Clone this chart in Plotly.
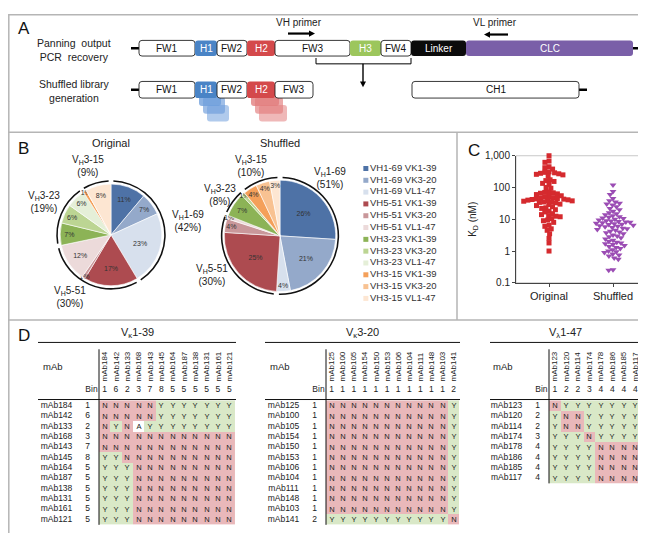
import math
import plotly.graph_objects as go

W, H = 646, 533
FONT = "Arial, 'Liberation Sans', sans-serif"

# ======================= DATA =======================
# Panel B
vh_genes = ["VH1-69", "VH5-51", "VH3-23", "VH3-15"]
vh_html = ["V<sub>H</sub>1-69", "V<sub>H</sub>5-51", "V<sub>H</sub>3-23", "V<sub>H</sub>3-15"]
vl_genes = ["VK1-39", "VK3-20", "VL1-47"]
original_pct = [11, 7, 23, 17, 1, 12, 7, 6, 6, 1, 0, 8]
shuffled_pct = [26, 21, 4, 25, 4, 1, 7, 1, 0, 4, 4, 3]
original_group_pct = [42, 30, 19, 9]
shuffled_group_pct = [51, 30, 8, 10]
pie_colors = ["#4e72a6", "#94a9ca", "#d7e0ed",
              "#ad4b50", "#c9979a", "#ecdada",
              "#8cb356", "#bcd593", "#e5efd8",
              "#f4a05a", "#f8c292", "#fde6d2"]

# Panel C (KD, nM)
kd_original = [1000, 680, 620, 450, 420, 380, 310, 300, 290, 280, 270, 260, 250, 230,
               175, 165, 155, 135, 125, 100, 95, 72, 70, 68, 66, 63, 60, 55, 52, 50,
               48, 46, 45, 44, 43, 42, 41, 40, 39, 38, 37, 36, 35, 34, 33, 30, 29,
               27, 25, 23, 22, 20, 18, 17, 15, 14, 13, 12.5, 12, 10.5, 9.5, 9, 8,
               6.5, 6, 5, 4.5, 3.5, 2.5, 1.8, 1.0]
kd_shuffled = [120, 75, 60, 45, 38, 35, 32, 30, 28, 25, 22, 20, 18, 16, 15, 14, 13,
               12, 11.5, 11, 10.5, 10, 9.5, 9, 8.8, 8.5, 8.2, 8, 7.8, 7.5, 7.2, 7,
               6.8, 6.5, 6.2, 6, 5.8, 5.5, 5.2, 5, 4.8, 4.5, 4.2, 4, 3.8, 3.5, 3.2,
               3, 2.8, 2.6, 2.4, 2.2, 2, 1.9, 1.8, 1.7, 1.6, 1.5, 1.4, 1.3, 1.2,
               1.1, 1.0, 0.95, 0.9, 0.8, 0.75, 0.7, 0.6, 0.55, 0.26, 0.25]
kd_ticks = [0.1, 1, 10, 100, 1000]
kd_ticktext = ["0.1", "1", "10", "100", "1,000"]
kd_groups = ["Original", "Shuffled"]

# Panel D
t1_title = "V<sub>κ</sub>1-39"
t1_mabs = ["mAb184", "mAb142", "mAb133", "mAb168", "mAb143", "mAb145",
           "mAb164", "mAb187", "mAb138", "mAb131", "mAb161", "mAb121"]
t1_bins = [1, 6, 2, 3, 7, 8, 5, 5, 5, 5, 5, 5]
t1_grid = ["NNNNNYYYYYYY", "NNNNNYYYYYYY", "NYNAYYYYYYYY", "NNNNNNNNNNNN",
           "NNNNNNNNNNNN", "YYNNNNNNNNNN", "YYYNNNNNNNNN", "YYYNNNNNNNNN",
           "YYYNNNNNNNNN", "YYYNNNNNNNNN", "YYYNNNNNNNNN", "YYYNNNNNNNNN"]

t2_title = "V<sub>κ</sub>3-20"
t2_mabs = ["mAb125", "mAb100", "mAb105", "mAb154", "mAb150", "mAb153",
           "mAb106", "mAb104", "mAb111", "mAb148", "mAb103", "mAb141"]
t2_bins = [1, 1, 1, 1, 1, 1, 1, 1, 1, 1, 1, 2]
t2_grid = ["NNNNNNNNNNNY"] * 11 + ["YYYYYYYYYYYN"]

t3_title = "V<sub>λ</sub>1-47"
t3_mabs = ["mAb123", "mAb120", "mAb114", "mAb174", "mAb178", "mAb186", "mAb185", "mAb117"]
t3_bins = [1, 2, 2, 3, 4, 4, 4, 4]
t3_grid = ["NYYYYYYY", "YNNYYYYY", "YNNYYYYY", "YYYNYYYY",
           "YYYYNNNN", "YYYYNNNN", "YYYYNNNN", "YYYYNNNN"]

# ======================= HELPERS =======================
def px(x):
    return x / W

def py(y):
    return 1 - y / H

def xdom(a, b):
    return [px(a), px(b)]

def ydom(top, bottom):
    return [py(bottom), py(top)]

shapes = []
annotations = []

def line(x0, y0, x1, y1, color="#000", width=1):
    shapes.append(dict(type="line", xref="paper", yref="paper", x0=px(x0), y0=py(y0),
                       x1=px(x1), y1=py(y1), line=dict(color=color, width=width)))

def poly(points, fill):
    path = "M " + " L ".join(f"{px(x):.5f},{py(y):.5f}" for x, y in points) + " Z"
    shapes.append(dict(type="path", xref="paper", yref="paper", path=path,
                       fillcolor=fill, line=dict(width=0)))

def rrect(x0, y0, x1, y1, fill, border=None, r=3, opacity=1.0):
    def P(x, y):
        return f"{px(x):.5f},{py(y):.5f}"
    path = (f"M {P(x0 + r, y0)} L {P(x1 - r, y0)} Q {P(x1, y0)} {P(x1, y0 + r)} "
            f"L {P(x1, y1 - r)} Q {P(x1, y1)} {P(x1 - r, y1)} L {P(x0 + r, y1)} "
            f"Q {P(x0, y1)} {P(x0, y1 - r)} L {P(x0, y0 + r)} Q {P(x0, y0)} {P(x0 + r, y0)} Z")
    shapes.append(dict(type="path", xref="paper", yref="paper", path=path, fillcolor=fill,
                       opacity=opacity,
                       line=dict(color=border if border else fill, width=0.9 if border else 0)))

def text(x, y, s, size=10, color="#222", xanchor="center", yanchor="middle", angle=0):
    annotations.append(dict(xref="paper", yref="paper", x=px(x), y=py(y), text=s,
                            showarrow=False, xanchor=xanchor, yanchor=yanchor,
                            textangle=angle, font=dict(size=size, color=color, family=FONT)))

def harrow(x_tail, x_head, y, width=2.2, head=6):
    d = 1 if x_head > x_tail else -1
    line(x_tail, y, x_head - d * head * 0.8, y, "#000", width)
    poly([(x_head, y), (x_head - d * head, y - 3.2), (x_head - d * head, y + 3.2)], "#000")

def varrow(x, y_tail, y_head, width=1.4, head=6):
    line(x, y_tail, x, y_head - head * 0.8, "#000", width)
    poly([(x, y_head), (x - 3, y_head - head), (x + 3, y_head - head)], "#000")

# ======================= PANEL FRAMES =======================
frame_col = "#b5b5b5"
shapes.append(dict(type="rect", xref="paper", yref="paper", x0=px(0.8), y0=py(532.2),
                   x1=px(645.2), y1=py(0.8), line=dict(color=frame_col, width=1.5)))
line(0, 121, 646, 121, frame_col, 1.5)
line(449, 121, 449, 313, frame_col, 1.5)
line(0, 313, 646, 313, frame_col, 1.5)
for lbl, x, y in [("A", 8, 15), ("B", 8, 138), ("C", 458, 140), ("D", 8, 329)]:
    text(x, y, lbl, size=17, color="#111", xanchor="left")

# ======================= PANEL A (diagram) =======================
row1 = [("FW1", 131, 187, "#ffffff", "#111"), ("H1", 187, 209, "#4a84c6", "#fff"),
        ("FW2", 209, 239, "#ffffff", "#111"), ("H2", 239, 267, "#d4494b", "#fff"),
        ("FW3", 267, 342, "#ffffff", "#111"), ("H3", 342, 373, "#9cc65c", "#fff"),
        ("FW4", 373, 403, "#ffffff", "#111"), ("Linker", 403, 458, "#0b0b0b", "#fff"),
        ("CLC", 458, 625, "#7a5fa8", "#fff")]
row2 = [("FW1", 131, 187, "#ffffff", "#111"), ("H1", 187, 209, "#4a84c6", "#fff"),
        ("FW2", 209, 239, "#ffffff", "#111"), ("H2", 239, 267, "#d4494b", "#fff"),
        ("FW3", 267, 305, "#ffffff", "#111"), ("CH1", 404, 571, "#ffffff", "#111")]
r1t, r1b = 27, 43
r2t, r2b = 69, 86
line(123, 35, 633, 35, "#000", 2.5)
line(123, 77.5, 132, 77.5, "#000", 2.5)
line(570, 77.5, 579, 77.5, "#000", 2.5)
for name, a, b, fill, tc in row1:
    rrect(a, r1t, b, r1b, fill, "#222" if fill == "#ffffff" else None)
    text((a + b) / 2, (r1t + r1b) / 2, name, size=10, color=tc)
for k in (3, 2, 1):
    rrect(187 + 4 * k, r2t + 8 * k, 209 + 4 * k, r2b + 8 * k, "#6d9ddb", None, opacity=0.9 - 0.12 * k)
    rrect(239 + 4 * k, r2t + 8 * k, 267 + 4 * k, r2b + 8 * k, "#e27c7c", None, opacity=0.9 - 0.12 * k)
for name, a, b, fill, tc in row2:
    rrect(a, r2t, b, r2b, fill, "#222" if fill == "#ffffff" else None)
    text((a + b) / 2, (r2t + r2b) / 2, name, size=10, color=tc)
shapes.append(dict(type="path", xref="paper", yref="paper",
                   path=f"M {px(308)},{py(45)} L {px(308)},{py(51)} L {px(403)},{py(51)} L {px(403)},{py(45)}",
                   line=dict(color="#000", width=1)))
varrow(355, 51, 75)
harrow(280, 307, 20)
harrow(500, 476, 21)
text(291, 9, "VH primer", size=10)
text(487, 9, "VL primer", size=10)
text(66, 37, "Panning  output<br>PCR  recovery", size=10.5)
text(66, 79, "Shuffled library<br>generation", size=10.5)

# ======================= PANEL B (pies) =======================
fig = go.Figure()

def add_pie(values, cx, cy, r, r_arc):
    fig.add_trace(go.Pie(
        values=values, labels=[f"{a} {b}" for a in vh_genes for b in vl_genes],
        sort=False, direction="clockwise", rotation=0,
        marker=dict(colors=pie_colors, line=dict(color="white", width=0.6)),
        domain=dict(x=xdom(cx - r, cx + r), y=ydom(cy - r, cy + r)),
        text=[f"{v}%" if v > 0 else "" for v in values], textinfo="text",
        textposition="inside", insidetextorientation="horizontal",
        textfont=dict(size=7, color="#333", family=FONT), showlegend=False, hoverinfo="skip"))
    groups = [sum(values[i * 3:(i + 1) * 3]) for i in range(4)]
    gap = sum(groups) * 0.014
    vals, cols = [gap / 2], ["rgba(0,0,0,0)"]
    for g in groups:
        vals += [g - gap, gap]
        cols += ["#111", "rgba(0,0,0,0)"]
    vals[-1] = gap / 2
    fig.add_trace(go.Pie(
        values=vals, sort=False, direction="clockwise", rotation=0, hole=(r_arc - 1.6) / r_arc,
        marker=dict(colors=cols, line=dict(width=0)), textinfo="none",
        domain=dict(x=xdom(cx - r_arc, cx + r_arc), y=ydom(cy - r_arc, cy + r_arc)),
        showlegend=False, hoverinfo="skip"))

add_pie(original_pct, 103, 226, 52, 56)
add_pie(shuffled_pct, 272, 227, 57, 60.5)
text(103, 132, "Original", size=11)
text(272, 132, "Shuffled", size=11)
orig_lbl_pos = [(180, 212), (62, 290), (36, 192), (80, 155)]
shuf_lbl_pos = [(322, 168), (204, 267), (212, 185), (243, 155)]
for i in range(4):
    text(orig_lbl_pos[i][0], orig_lbl_pos[i][1], f"{vh_html[i]}<br>({original_group_pct[i]}%)", size=10)
    text(shuf_lbl_pos[i][0], shuf_lbl_pos[i][1], f"{vh_html[i]}<br>({shuffled_group_pct[i]}%)", size=10)

leg_labels = [f"{a} {b}" for a in vh_genes for b in vl_genes]
fig.add_trace(go.Scatter(
    x=[0.3] * len(leg_labels), y=list(range(len(leg_labels))), mode="markers+text",
    marker=dict(symbol="square", size=5, color=pie_colors), text=leg_labels,
    textposition="middle right", textfont=dict(size=9.5, color="#333", family=FONT),
    xaxis="x2", yaxis="y2", showlegend=False, hoverinfo="skip", cliponaxis=False))

# ======================= PANEL C (scatter) =======================
def beeswarm(values, ppd=32.5, d=4.3, ppu=64.0):
    order = sorted(range(len(values)), key=lambda i: -values[i])
    placed, offs = [], [0.0] * len(values)
    for i in order:
        y = math.log10(values[i]) * ppd
        blocks, cands = [], [0.0]
        for (qx, qy) in placed:
            dy = abs(qy - y)
            if dy < d:
                dx = math.sqrt(d * d - dy * dy)
                blocks.append((qx - dx, qx + dx))
                cands += [qx - dx, qx + dx]
        cands.sort(key=lambda c: (abs(c), c))
        xsel = 0.0
        for c in cands:
            if all(not (lo + 1e-6 < c < hi - 1e-6) for lo, hi in blocks):
                xsel = c
                break
        placed.append((xsel, y))
        offs[i] = xsel / ppu
    return offs

off_o = beeswarm(kd_original)
off_s = beeswarm(kd_shuffled)
fig.add_trace(go.Scatter(x=[0 + o for o in off_o], y=kd_original, mode="markers",
                         marker=dict(symbol="square", size=5, color="#d52a2e"),
                         showlegend=False, hoverinfo="skip", cliponaxis=False))
fig.add_trace(go.Scatter(x=[1 + o for o in off_s], y=kd_shuffled, mode="markers",
                         marker=dict(symbol="triangle-down", size=6, color="#9b4db4"),
                         showlegend=False, hoverinfo="skip", cliponaxis=False))
shapes.append(dict(type="rect", xref="paper", yref="paper", x0=px(508), x1=px(633),
                   y0=py(275), y1=py(145), line=dict(color="#c8c8c8", width=1), layer="below"))

# ======================= PANEL D (tables) =======================
tables = [
    dict(title=t1_title, mabs=t1_mabs, bins=t1_bins, grid=t1_grid, lx=(30, 228), L=91, cw=11.33),
    dict(title=t2_title, mabs=t2_mabs, bins=t2_bins, grid=t2_grid, lx=(257, 452), L=318, cw=11.1),
    dict(title=t3_title, mabs=t3_mabs, bins=t3_bins, grid=t3_grid, lx=(482, 633), L=541, cw=11.5),
]
T, RH, DTOP = 395.4, 10.6, 377
code = {"N": 0, "A": 1, "Y": 2}
layout_axes = {}
for k, tb in enumerate(tables):
    ax = k + 3
    n, m = len(tb["mabs"]), len(tb["mabs"])
    L, cw = tb["L"], tb["cw"]
    left_px = L - 62
    xmin = -0.5 - (L - left_px) / cw
    bottom_px = T + m * RH
    ytop = -0.5 - (T - DTOP) / RH
    xa, ya = f"x{ax}", f"y{ax}"
    fig.add_trace(go.Heatmap(
        x=list(range(n)), y=list(range(m)),
        z=[[code[c] for c in row] for row in tb["grid"]],
        text=[[c for c in row] for row in tb["grid"]], texttemplate="%{text}",
        textfont=dict(size=7.5, color="#222", family=FONT),
        colorscale=[[0, "#e9b8ba"], [0.5, "#ffffff"], [1, "#d9e8c7"]], zmin=0, zmax=2,
        showscale=False, xaxis=xa, yaxis=ya, hoverinfo="skip"))
    name_x = -0.5 - 42.5 / cw
    bin_x = -0.5 - 11.5 / cw
    binrow_y = -0.5 - (T - 385) / RH
    fig.add_trace(go.Scatter(x=[name_x] * m, y=list(range(m)), mode="text", text=tb["mabs"],
                             textfont=dict(size=8.5, color="#222", family=FONT),
                             xaxis=xa, yaxis=ya, showlegend=False, hoverinfo="skip"))
    fig.add_trace(go.Scatter(x=[bin_x] * m, y=list(range(m)), mode="text",
                             text=[str(b) for b in tb["bins"]],
                             textfont=dict(size=8.5, color="#222", family=FONT),
                             xaxis=xa, yaxis=ya, showlegend=False, hoverinfo="skip"))
    fig.add_trace(go.Scatter(x=list(range(n)), y=[binrow_y] * n, mode="text",
                             text=[str(b) for b in tb["bins"]],
                             textfont=dict(size=8.5, color="#222", family=FONT),
                             xaxis=xa, yaxis=ya, showlegend=False, hoverinfo="skip"))
    fig.add_trace(go.Scatter(x=[-0.62], y=[binrow_y], mode="text", text=["Bin"],
                             textposition="middle left",
                             textfont=dict(size=8.5, color="#222", family=FONT),
                             xaxis=xa, yaxis=ya, showlegend=False, hoverinfo="skip"))
    layout_axes[f"xaxis{ax}"] = dict(domain=xdom(left_px, L + n * cw), range=[xmin, n - 0.5],
                                     anchor=ya, side="top", tickmode="array",
                                     tickvals=list(range(n)), ticktext=tb["mabs"], tickangle=-90,
                                     tickfont=dict(size=8, color="#222", family=FONT),
                                     showgrid=False, zeroline=False, showline=False, ticks="")
    layout_axes[f"yaxis{ax}"] = dict(domain=ydom(DTOP, bottom_px), range=[m - 0.5, ytop],
                                     anchor=xa, visible=False)
    x0, x1 = tb["lx"]
    line(x0, 336, x1, 336, "#111", 1)
    line(x0, T - 1, x1, T - 1, "#111", 1)
    line(L, 343, L, bottom_px, "#111", 1)
    text((x0 + x1) / 2, 326, tb["title"], size=11)
    text(L - 46, 361, "mAb", size=9.5)

# ======================= LAYOUT =======================
fig.update_layout(
    width=W, height=H, autosize=False, margin=dict(l=0, r=0, t=0, b=0),
    paper_bgcolor="white", plot_bgcolor="rgba(0,0,0,0)",
    font=dict(family=FONT, color="#222"),
    uniformtext=dict(minsize=7, mode="show"),
    shapes=shapes, annotations=annotations,
    xaxis=dict(domain=xdom(508, 633), range=[-0.516, 1.4375], tickmode="array",
               tickvals=[0, 1], ticktext=kd_groups, ticks="outside", ticklen=3,
               tickcolor="#444", showline=True, linecolor="#444", linewidth=1,
               showgrid=False, zeroline=False, tickfont=dict(size=11, color="#222"),
               anchor="y"),
    yaxis=dict(domain=ydom(145, 275), type="log", range=[-1, 3], tickmode="array",
               tickvals=kd_ticks, ticktext=kd_ticktext, ticks="outside", ticklen=3,
               tickcolor="#444", showline=True, linecolor="#444", linewidth=1,
               showgrid=False, zeroline=False, tickfont=dict(size=10, color="#222"),
               title=dict(text="K<sub>D</sub> (nM)", font=dict(size=10), standoff=6),
               anchor="x"),
    xaxis2=dict(domain=xdom(355, 450), range=[0, 10], visible=False, anchor="y2"),
    yaxis2=dict(domain=ydom(152, 297), range=[11.5, -0.5], visible=False, anchor="x2"),
    **layout_axes,
)

fig.write_html("out.html")
